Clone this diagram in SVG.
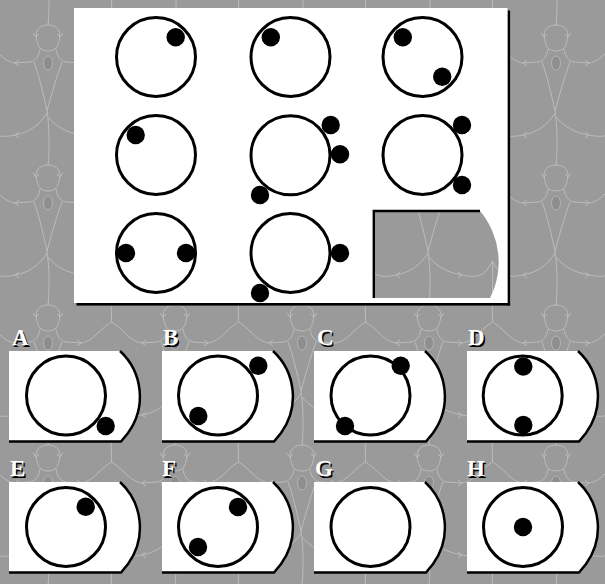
<svg xmlns="http://www.w3.org/2000/svg" xmlns:xlink="http://www.w3.org/1999/xlink" width="605" height="584" viewBox="0 0 605 584">
<style>
.bgline{fill:none;stroke:#bcbcbc;stroke-width:1;}
.spot{fill:#8e8e8e;stroke:#b4b4b4;stroke-width:1;}
.ring{fill:none;stroke:#000;stroke-width:3;}
.dot{fill:#000;}
.tile{fill:#fff;}
.edge{fill:none;stroke:#000;stroke-width:2.5;}
.lbl{font-family:"Liberation Serif","Times New Roman",serif;font-weight:bold;font-size:23px;}
.lbl-s{fill:#000;}
.lbl-f{fill:#fff;}
</style>
<defs>
<g id="fig">
<path class="bgline" d="M-12,11 C-12,3 -6,0 0,0 C6,0 12,3 12,11 M-15,8 L-12,12 L-9,9 M9,9 L12,12 L15,8 M-12,11 C-11,17 -10,21 -8,23 C-4,27 4,27 8,23 C10,21 11,17 12,11"/>
<path class="bgline" d="M-8,24 C-9,31 -12,36 -18,37 L-33,38 M-29,35 L-33,38 L-29,41 M-33,38 C-40,37 -45,33 -50,28 C-55,23 -60,19 -63.5,17"/>
<path class="bgline" d="M8,24 C9,31 12,36 18,37 L33,38 M29,35 L33,38 L29,41 M33,38 C40,37 45,33 50,28 C55,23 60,19 63.5,17"/>
<ellipse class="spot" cx="0" cy="38" rx="4.5" ry="7"/>
<path class="bgline" d="M-14,37 C-9,50 -5,68 -1,86 M14,37 C9,50 4,68 -1,86 M-1,86 C1,100 2,120 0,140"/>
<path class="bgline" d="M-1,88 C-8,100 -20,108 -33,110 M-29,107 L-33,110 L-29,113 M-33,110 C-42,112 -50,112 -55,108 C-59,104 -62,100 -63.5,96"/>
<path class="bgline" d="M0,92 C8,102 20,108 33,110 M29,107 L33,110 L29,113 M33,110 C42,112 50,112 55,108 C59,104 62,100 63.5,96 M63.5,96 C64.5,115 62.5,135 63.5,157"/>
</g>
<g id="bgrow">
<use xlink:href="#fig" x="-79" y="0"/>
<use xlink:href="#fig" x="48" y="0"/>
<use xlink:href="#fig" x="175" y="0"/>
<use xlink:href="#fig" x="302" y="0"/>
<use xlink:href="#fig" x="429" y="0"/>
<use xlink:href="#fig" x="556" y="0"/>
<use xlink:href="#fig" x="683" y="0"/>
</g>
<path id="tileShape" d="M0,0 H111 A62,62 0 0 1 119,82 L112,90.5 H0 Z"/>
<path id="tileEdge" d="M111,0 A62,62 0 0 1 119,82 L112,90.5 H0"/>
</defs>

<g id="background">
<rect x="0" y="0" width="605" height="584" fill="#9a9a9a"/>
<use xlink:href="#bgrow" x="0" y="-115"/>
<use xlink:href="#bgrow" x="0" y="25"/>
<use xlink:href="#bgrow" x="0" y="165"/>
<use xlink:href="#bgrow" x="0" y="305"/>
<use xlink:href="#bgrow" x="0" y="445"/>
<use xlink:href="#bgrow" x="0" y="585"/>
</g>

<g id="panel">
<rect x="507.5" y="10.5" width="2.6" height="295" fill="#000"/>
<rect x="76.5" y="303" width="433.6" height="2.6" fill="#000"/>
<path d="M74,8 H507.5 V303 H74 Z M373.8,211 H480 A79,79 0 0 1 490,298 H373.8 Z" fill="#fff" fill-rule="evenodd"/>
<path d="M373.8,298 V211 H480" fill="none" stroke="#000" stroke-width="2.4"/>
</g>

<g id="cell-1-1"><circle class="ring" cx="156" cy="57" r="39.5"/><circle class="dot" cx="175.7" cy="37.3" r="9.2"/></g>
<g id="cell-1-2"><circle class="ring" cx="290.5" cy="57" r="39.5"/><circle class="dot" cx="270.8" cy="37.3" r="9.2"/></g>
<g id="cell-1-3"><circle class="ring" cx="422.5" cy="57" r="39.5"/><circle class="dot" cx="402.8" cy="37.3" r="9.2"/><circle class="dot" cx="442.2" cy="76.7" r="9.2"/></g>
<g id="cell-2-1"><circle class="ring" cx="156" cy="155" r="39.5"/><circle class="dot" cx="135.7" cy="135" r="9.2"/></g>
<g id="cell-2-2"><circle class="ring" cx="290.5" cy="155.3" r="39.5"/><circle class="dot" cx="330.7" cy="125" r="9.2"/><circle class="dot" cx="340" cy="154.3" r="9.2"/><circle class="dot" cx="260" cy="195" r="9.2"/></g>
<g id="cell-2-3"><circle class="ring" cx="422.5" cy="155" r="39.5"/><circle class="dot" cx="462" cy="125" r="9.2"/><circle class="dot" cx="462" cy="185" r="9.2"/></g>
<g id="cell-3-1"><circle class="ring" cx="156" cy="253" r="39.5"/><circle class="dot" cx="126" cy="253" r="9.2"/><circle class="dot" cx="186" cy="253" r="9.2"/></g>
<g id="cell-3-2"><circle class="ring" cx="290.5" cy="253" r="39.5"/><circle class="dot" cx="340" cy="253" r="9.2"/><circle class="dot" cx="260" cy="293" r="9.2"/></g>

<g id="option-A" transform="translate(9,351)">
<use xlink:href="#tileShape" class="tile"/><use xlink:href="#tileEdge" class="edge"/>
<circle class="ring" cx="57" cy="44.5" r="39.5"/><circle class="dot" cx="96.7" cy="75" r="9.2"/>
<text class="lbl lbl-s" x="4.5" y="-4.5">A</text><text class="lbl lbl-f" x="3" y="-6">A</text>
</g>
<g id="option-B" transform="translate(162,351)">
<use xlink:href="#tileShape" class="tile"/><use xlink:href="#tileEdge" class="edge"/>
<circle class="ring" cx="56" cy="44.5" r="39.5"/><circle class="dot" cx="96.3" cy="14.7" r="9.2"/><circle class="dot" cx="36.3" cy="65" r="9.2"/>
<text class="lbl lbl-s" x="2.5" y="-4.5">B</text><text class="lbl lbl-f" x="1" y="-6">B</text>
</g>
<g id="option-C" transform="translate(314,351)">
<use xlink:href="#tileShape" class="tile"/><use xlink:href="#tileEdge" class="edge"/>
<circle class="ring" cx="56.5" cy="44.5" r="39.5"/><circle class="dot" cx="86.7" cy="14.7" r="9.2"/><circle class="dot" cx="31" cy="75" r="9.2"/>
<text class="lbl lbl-s" x="4.5" y="-4.5">C</text><text class="lbl lbl-f" x="3" y="-6">C</text>
</g>
<g id="option-D" transform="translate(467,351)">
<use xlink:href="#tileShape" class="tile"/><use xlink:href="#tileEdge" class="edge"/>
<circle class="ring" cx="55.7" cy="44.5" r="39.5"/><circle class="dot" cx="56.3" cy="15.5" r="9.2"/><circle class="dot" cx="56.3" cy="74" r="9.2"/>
<text class="lbl lbl-s" x="2.5" y="-4.5">D</text><text class="lbl lbl-f" x="1" y="-6">D</text>
</g>
<g id="option-E" transform="translate(9,482)">
<use xlink:href="#tileShape" class="tile"/><use xlink:href="#tileEdge" class="edge"/>
<circle class="ring" cx="57" cy="45" r="39.5"/><circle class="dot" cx="76.7" cy="24.7" r="9.2"/>
<text class="lbl lbl-s" x="2.5" y="-4.5">E</text><text class="lbl lbl-f" x="1" y="-6">E</text>
</g>
<g id="option-F" transform="translate(162,482)">
<use xlink:href="#tileShape" class="tile"/><use xlink:href="#tileEdge" class="edge"/>
<circle class="ring" cx="56" cy="45" r="39.5"/><circle class="dot" cx="76" cy="25" r="9.2"/><circle class="dot" cx="36" cy="65" r="9.2"/>
<text class="lbl lbl-s" x="1.5" y="-4.5">F</text><text class="lbl lbl-f" x="0" y="-6">F</text>
</g>
<g id="option-G" transform="translate(314,482)">
<use xlink:href="#tileShape" class="tile"/><use xlink:href="#tileEdge" class="edge"/>
<circle class="ring" cx="56.5" cy="45" r="39.5"/>
<text class="lbl lbl-s" x="2.5" y="-4.5">G</text><text class="lbl lbl-f" x="1" y="-6">G</text>
</g>
<g id="option-H" transform="translate(467,482)">
<use xlink:href="#tileShape" class="tile"/><use xlink:href="#tileEdge" class="edge"/>
<circle class="ring" cx="56" cy="45" r="39.5"/><circle class="dot" cx="56" cy="45" r="9.2"/>
<text class="lbl lbl-s" x="1.5" y="-4.5">H</text><text class="lbl lbl-f" x="0" y="-6">H</text>
</g>
<g id="connectors"/>
</svg>
